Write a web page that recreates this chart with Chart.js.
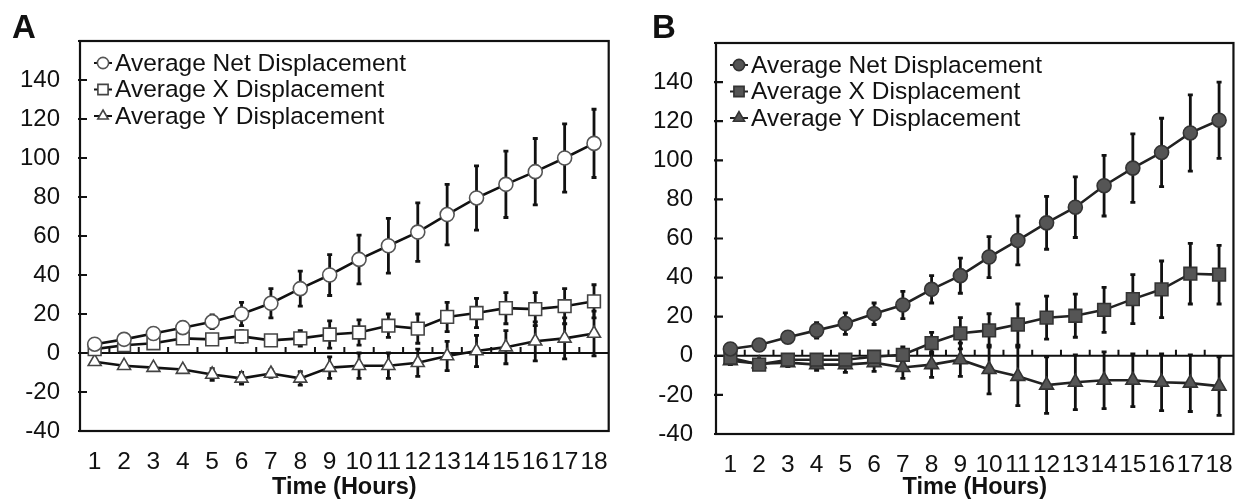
<!DOCTYPE html>
<html>
<head>
<meta charset="utf-8">
<script src="https://cdn.jsdelivr.net/npm/chart.js@4.4.0/dist/chart.umd.min.js"></script>
<style>
body { margin: 0; background: #fff; }
#wrap { position: relative; width: 1250px; height: 503px; }
canvas { position: absolute; top: 0; }
</style>
</head>
<body>
<div id="wrap">
  <canvas id="chartA" width="625" height="503" style="left:0"></canvas>
  <canvas id="chartB" width="625" height="503" style="left:625px"></canvas>
</div>
<script>
var hours = ['1','2','3','4','5','6','7','8','9','10','11','12','13','14','15','16','17','18'];
var yTicks = [-40, -20, 0, 20, 40, 60, 80, 100, 120, 140, 160];
var seriesNames = ['Average Net Displacement', 'Average X Displacement', 'Average Y Displacement'];

// panel A (open markers)
var netA    = [4.5, 7, 10, 13, 16, 20, 25.5, 33, 40, 48, 55, 62, 71, 79.5, 86.5, 93, 100, 107.5];
var netAErr = [1.5, 2, 2, 2.5, 3.5, 6, 7.5, 9, 10.5, 12.5, 14, 15, 15.5, 16.5, 17, 17, 17.5, 17.5];
var xA      = [2, 4, 5, 7.5, 7, 8.5, 6.5, 7.5, 9.5, 10.5, 14, 12.5, 18.5, 20.5, 23, 22.5, 24, 26.5];
var xAErr   = [1, 1.5, 1.5, 1.5, 2, 3, 2, 4, 7, 6.5, 6, 7.5, 7.5, 7.5, 8, 8.5, 9, 8.5];
var yA      = [-4.5, -6.5, -7.5, -8.5, -11, -13, -10.5, -13, -7.5, -6.5, -6.5, -5, -1.5, 1, 3, 6, 7.5, 10];
var yAErr   = [1, 1, 1, 1.5, 3, 3, 2, 3.5, 5.5, 6.5, 6.5, 7, 7.5, 8, 8.5, 10, 10.5, 11.5];

// panel B (filled markers)
var netB    = [3.5, 5.5, 9.5, 13, 16.5, 21.5, 26, 34, 41, 50.5, 59, 68, 76, 87, 96, 104, 114, 120.5];
var netBErr = [1.5, 1.5, 2.5, 4, 5.5, 5.5, 7, 7, 9, 10.5, 12.5, 13.5, 15.5, 15.5, 17.5, 17.5, 19.5, 19.5];
var xB      = [-1, -4.5, -2, -2, -2, -0.5, 0.5, 6.5, 11.5, 13, 16, 19.5, 20.5, 23.5, 29, 34, 42, 41.5];
var xBErr   = [1.5, 1.5, 1.5, 1.5, 2, 2.5, 4, 5.5, 8, 8.5, 10.5, 11, 11, 11.5, 12.5, 14.5, 15.5, 15];
var yB      = [-2.5, -4, -3.5, -4.5, -4.5, -3.5, -6, -4.5, -2, -7, -10.5, -15, -13.5, -12.5, -12.5, -13.5, -14, -15.5];
var yBErr   = [2, 2, 2, 3, 4, 4.5, 5.5, 6.5, 8.5, 12.5, 15, 14.5, 14, 14.5, 13.5, 14.5, 14.5, 15];

var FONT = '"Liberation Sans", Arial, sans-serif';
var INK = '#111';

var panelPlugin = {
  id: 'panel',
  beforeDatasetsDraw: function(chart) {
    var ctx = chart.ctx, xs = chart.scales.x, ys = chart.scales.y, area = chart.chartArea;
    var zero = ys.getPixelForValue(0);
    ctx.save();
    ctx.strokeStyle = INK;
    ctx.lineWidth = 2;
    ctx.beginPath();
    ctx.moveTo(area.left, zero);
    ctx.lineTo(area.right, zero);
    for (var i = 0; i < hours.length - 1; i++) {
      var tx = (xs.getPixelForValue(i) + xs.getPixelForValue(i + 1)) / 2;
      ctx.moveTo(tx, zero);
      ctx.lineTo(tx, zero - 6);
    }
    ctx.stroke();

    // error bars, under the markers
    chart.data.datasets.forEach(function(ds) {
      ctx.strokeStyle = ds.errColor;
      ctx.lineWidth = 2.8;
      ctx.beginPath();
      ds.errors.forEach(function(e, i) {
        var px = xs.getPixelForValue(i);
        var top = ys.getPixelForValue(ds.data[i] + e);
        var bot = ys.getPixelForValue(ds.data[i] - e);
        ctx.moveTo(px, top); ctx.lineTo(px, bot);
        ctx.moveTo(px - 2.5, top); ctx.lineTo(px + 2.5, top);
        ctx.moveTo(px - 2.5, bot); ctx.lineTo(px + 2.5, bot);
      });
      ctx.stroke();
    });
    ctx.restore();
  },
  afterDraw: function(chart) {
    var ctx = chart.ctx, ys = chart.scales.y, area = chart.chartArea;
    var opts = chart.options.plugins.panel;
    ctx.save();
    // frame
    ctx.strokeStyle = INK;
    ctx.lineWidth = 2.2;
    ctx.strokeRect(area.left, area.top, area.right - area.left, area.bottom - area.top);
    ctx.beginPath();
    yTicks.forEach(function(v) {
      var py = ys.getPixelForValue(v);
      ctx.moveTo(area.left - 2, py);
      ctx.lineTo(area.left + 7, py);
    });
    ctx.stroke();

    // legend inside the plot
    ctx.font = '24.5px ' + FONT;
    ctx.textBaseline = 'middle';
    ctx.textAlign = 'left';
    chart.data.datasets.forEach(function(ds, d) {
      var ly = area.top + 22 + d * 26.5;
      var lx = area.left + 23;
      ctx.strokeStyle = ds.borderColor;
      ctx.lineWidth = 2;
      ctx.beginPath();
      ctx.moveTo(lx - 9, ly); ctx.lineTo(lx + 9, ly);
      ctx.stroke();
      ctx.fillStyle = ds.pointBackgroundColor;
      ctx.strokeStyle = ds.pointBorderColor;
      ctx.lineWidth = ds.pointBorderWidth;
      Chart.helpers.drawPoint(ctx, { pointStyle: ds.pointStyle, radius: ds.legendRadius, rotation: 0, borderWidth: ds.pointBorderWidth }, lx, ly);
      ctx.fillStyle = INK;
      ctx.fillText(ds.label, lx + 12, ly + 1);
    });

    // panel letter
    ctx.font = 'bold 33px ' + FONT;
    ctx.textBaseline = 'alphabetic';
    ctx.fillText(opts.letter, opts.letterX, 38);
    ctx.restore();
  }
};

function series(label, data, errors, style, radius, fill, edge, line) {
  return {
    label: label,
    data: data,
    errors: errors,
    errColor: INK,
    borderColor: line,
    borderWidth: 2.6,
    pointStyle: style,
    pointRadius: radius,
    legendRadius: radius * 0.8,
    pointBackgroundColor: fill,
    pointBorderColor: edge,
    pointBorderWidth: 1.6,
    tension: 0,
    fill: false
  };
}

function makeChart(id, datasets, padRight, padTop, yWidth, yPad, xHeight, letter, letterX) {
  return new Chart(document.getElementById(id), {
    type: 'line',
    data: { labels: hours, datasets: datasets },
    plugins: [panelPlugin],
    options: {
      responsive: false,
      animation: false,
      events: [],
      layout: { padding: { left: 0, right: padRight, top: padTop, bottom: 0 } },
      plugins: {
        legend: { display: false },
        tooltip: { enabled: false },
        panel: { letter: letter, letterX: letterX }
      },
      scales: {
        x: {
          offset: true,
          grid: { display: false, drawTicks: false },
          border: { display: false },
          ticks: { autoSkip: false, maxRotation: 0, minRotation: 0, padding: 17, color: INK, font: { family: FONT, size: 24.5 } },
          title: { display: true, text: 'Time (Hours)', color: INK, font: { family: FONT, size: 23.5, weight: 'bold' }, padding: { top: 0, bottom: 1 } },
          afterFit: function(s) { s.height = xHeight; }
        },
        y: {
          min: -40,
          max: 160,
          grid: { display: false, drawTicks: false },
          border: { display: false },
          ticks: {
            stepSize: 20,
            padding: yPad,
            color: INK,
            font: { family: FONT, size: 24 },
            callback: function(v) { return v === 160 ? '' : v; }
          },
          afterFit: function(s) { s.width = yWidth; }
        }
      }
    }
  });
}

makeChart('chartA', [
  series(seriesNames[0], netA, netAErr, 'circle', 7, '#fff', '#555', INK),
  series(seriesNames[1], xA, xAErr, 'rect', 9, '#fff', '#444', INK),
  series(seriesNames[2], yA, yAErr, 'triangle', 7.5, '#fff', '#444', INK)
], 13, 41, 80, 20, 72, 'A', 12);

makeChart('chartB', [
  series(seriesNames[0], netB, netBErr, 'circle', 7, '#555', '#333', '#222'),
  series(seriesNames[1], xB, xBErr, 'rect', 9, '#555', '#333', '#222'),
  series(seriesNames[2], yB, yBErr, 'triangle', 8, '#555', '#333', '#222')
], 4, 43, 91, 23, 69, 'B', 27);
</script>
</body>
</html>
